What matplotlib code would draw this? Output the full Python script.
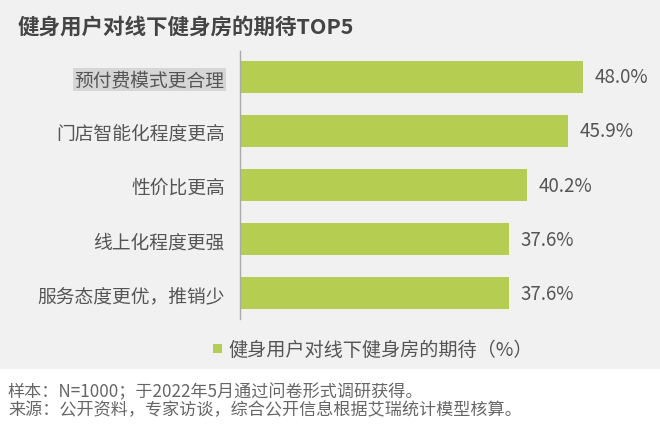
import matplotlib.pyplot as plt
from matplotlib.patches import Rectangle

plt.rcParams['font.family'] = ['Noto Sans CJK SC', 'DejaVu Sans']

categories = ['预付费模式更合理', '门店智能化程度更高', '性价比更高', '线上化程度更强', '服务态度更优，推销少']
values = [48.0, 45.9, 40.2, 37.6, 37.6]
title = '健身用户对线下健身房的期待TOP5'
legend_label = '健身用户对线下健身房的期待（%）'
notes = ['样本：N=1000；于2022年5月通过问卷形式调研获得。',
         '来源：公开资料，专家访谈，综合公开信息根据艾瑞统计模型核算。']

bar_color = '#b5ce52'
text_color = '#555555'

W, H = 660, 431
fig = plt.figure(figsize=(W / 100, H / 100), dpi=100, facecolor='white')

# gray panel behind the chart
fig.patches.append(Rectangle((0, 1 - 370 / H), 1, 370 / H, transform=fig.transFigure,
                             facecolor='#f1f1f1', edgecolor='none', zorder=-10))

ax = fig.add_axes([240 / W, 1 - 320 / H, 400 / W, 268 / H])
ax.set_facecolor('none')
y = list(range(len(categories)))
ax.barh(y, values, height=0.6, color=bar_color)
ax.set_xlim(0, 400 / 7.146)
ax.set_ylim(4.48, -0.48)

for yi, v in zip(y, values):
    ax.text(v + 1.6, yi, f'{v:.1f}%', va='center', ha='left', fontsize=13.5, color=text_color)

ax.set_yticks(y)
ax.set_yticklabels(categories, fontsize=13.5, color=text_color)
ax.tick_params(axis='y', length=0, pad=11)
ax.set_xticks([])
for s in ['top', 'right', 'bottom']:
    ax.spines[s].set_visible(False)
ax.spines['left'].set_color('#aaaaaa')
ax.spines['left'].set_linewidth(1)

ax.get_yticklabels()[0].set_bbox(dict(facecolor='#d6d6d6', edgecolor='none', pad=1))

fig.text(18 / W, 1 - 27 / H, title, fontsize=15.5, fontweight='bold', color='#444444',
         va='center', ha='left')

fig.patches.append(Rectangle((213 / W, 1 - 354 / H), 9 / W, 9 / H, transform=fig.transFigure,
                             facecolor=bar_color, edgecolor='none'))
fig.text(228 / W, 1 - 350 / H, legend_label, fontsize=13.8, color=text_color, va='center', ha='left')

fig.text(8 / W, 1 - 392 / H, notes[0], fontsize=12.3, color='#666666', va='center', ha='left')
fig.text(8 / W, 1 - 410 / H, notes[1], fontsize=12.3, color='#666666', va='center', ha='left')

fig.savefig('out.png', dpi=100, facecolor='white')
